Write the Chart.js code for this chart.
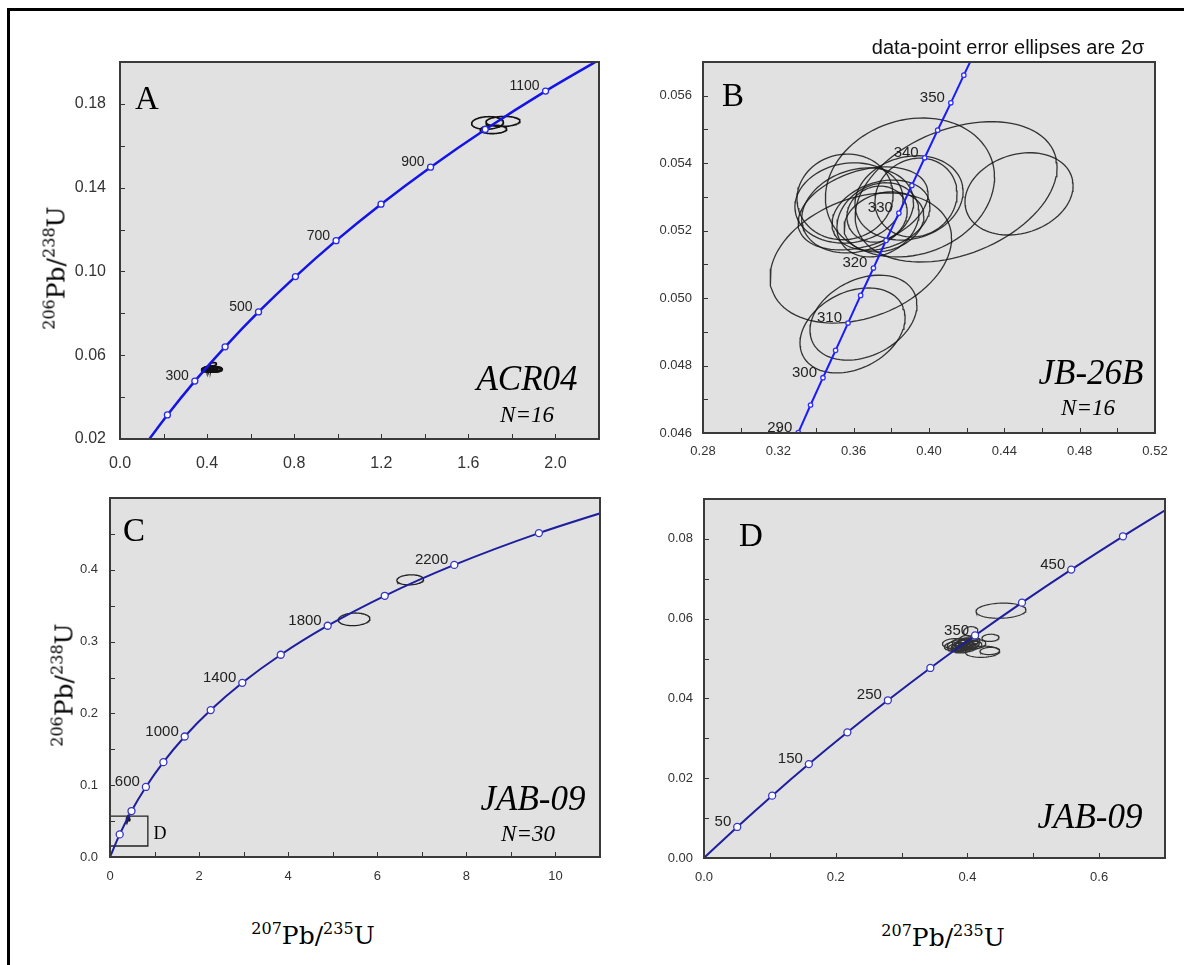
<!DOCTYPE html>
<html>
<head>
<meta charset="utf-8">
<script src="https://cdn.jsdelivr.net/npm/chart.js@4.4.1/dist/chart.umd.min.js"></script>
<style>
body{margin:0;background:#fff;width:1184px;height:965px;position:relative;overflow:hidden;font-family:"Liberation Sans",Arial,sans-serif}
.frame{position:absolute;left:7px;top:8px;width:1180px;height:965px;border-top:3px solid #000;border-left:3px solid #000}
.cv{position:absolute}
.t{position:absolute;white-space:nowrap;line-height:1;transform:translate(-50%,-50%);color:#000}
.ser{font-family:"Liberation Serif",serif}
.it{font-family:"Liberation Serif",serif;font-style:italic}
.ax{font-family:"DejaVu Serif",serif;font-size:25px}
.ax sup{font-size:16px;vertical-align:0;position:relative;top:-10px}
.rot{transform:translate(-50%,-50%) rotate(-90deg)}
</style>
</head>
<body>
<div class="frame"></div>

<canvas id="chartA" class="cv" style="left:50px;top:52px" width="579" height="427"></canvas>
<canvas id="chartB" class="cv" style="left:633px;top:52px" width="552" height="421"></canvas>
<canvas id="chartC" class="cv" style="left:40px;top:488px" width="590" height="409"></canvas>
<canvas id="chartD" class="cv" style="left:634px;top:489px" width="561" height="409"></canvas>

<div class="t" style="left:1008px;top:47px;font-size:20px;color:#111">data-point error ellipses are 2σ</div>

<div class="t ser" style="left:147px;top:98px;font-size:33px">A</div>
<div class="t ser" style="left:733px;top:95px;font-size:33px">B</div>
<div class="t ser" style="left:134px;top:530px;font-size:33px">C</div>
<div class="t ser" style="left:751px;top:535px;font-size:33px">D</div>
<div class="t ser" style="left:160px;top:833px;font-size:18px">D</div>

<div class="t it" style="left:527px;top:378px;font-size:35px">ACR04</div>
<div class="t it" style="left:527px;top:414px;font-size:23px">N=16</div>
<div class="t it" style="left:1091px;top:372px;font-size:35px">JB-26B</div>
<div class="t it" style="left:1088px;top:407px;font-size:23px">N=16</div>
<div class="t it" style="left:533px;top:798px;font-size:35px">JAB-09</div>
<div class="t it" style="left:528px;top:833px;font-size:23px">N=30</div>
<div class="t it" style="left:1090px;top:816px;font-size:35px">JAB-09</div>

<div class="t ax rot" style="left:56px;top:268px"><sup>206</sup>Pb/<sup>238</sup>U</div>
<div class="t ax rot" style="left:64px;top:685px"><sup>206</sup>Pb/<sup>238</sup>U</div>
<div class="t ax" style="left:313px;top:935px"><sup>207</sup>Pb/<sup>235</sup>U</div>
<div class="t ax" style="left:943px;top:937px"><sup>207</sup>Pb/<sup>235</sup>U</div>

<script>
// ---- panel A : ACR04 ----
var agesA  = [100, 200, 300, 400, 500, 600, 700, 800, 900, 1000, 1100, 1200]
var concXA = [0.1035, 0.2177, 0.3437, 0.4828, 0.6362, 0.8057, 0.9925, 1.1988, 1.4264, 1.6774, 1.9546, 2.2603]
var concYA = [0.01563, 0.03151, 0.04764, 0.06402, 0.08065, 0.09754, 0.1147, 0.1321, 0.1498, 0.1678, 0.1861, 0.2046]
var dotsA  = [200, 300, 400, 500, 600, 700, 800, 900, 1000, 1100]
var namedA = [300, 500, 700, 900, 1100]
var xTickA = [0, 0.2, 0.4, 0.6, 0.8, 1.0, 1.2, 1.4, 1.6, 1.8, 2.0, 2.2]
var xLabA  = ['0.0', '', '0.4', '', '0.8', '', '1.2', '', '1.6', '', '2.0', '']
var yTickA = [0.02, 0.04, 0.06, 0.08, 0.10, 0.12, 0.14, 0.16, 0.18, 0.20]
var yLabA  = ['0.02', '', '0.06', '', '0.10', '', '0.14', '', '0.18', '']
var ellXA  = [1.688, 1.759, 1.715, 0.410, 0.430, 0.420, 0.425, 0.400, 0.415, 0.435, 0.405, 0.440, 0.428, 0.418, 0.395, 0.445]
var ellSXA = [0.073, 0.078, 0.061, 0.035, 0.040, 0.030, 0.020, 0.025, 0.022, 0.030, 0.020, 0.025, 0.015, 0.018, 0.020, 0.020]
var ellYA  = [0.1709, 0.1716, 0.1678, 0.0533, 0.0532, 0.0535, 0.0534, 0.0536, 0.0530, 0.0533, 0.0538, 0.0530, 0.0557, 0.0540, 0.0531, 0.0535]
var ellSYA = [0.0030, 0.0024, 0.0020, 0.0012, 0.0013, 0.0010, 0.0009, 0.0010, 0.0009, 0.0011, 0.0010, 0.0010, 0.0008, 0.0009, 0.0010, 0.0009]
var ellRA  = [0.1, 0.1, 0.1, 0.2, 0.1, 0.2, 0.2, 0.3, 0.2, 0.1, 0.3, 0.1, 0.2, 0.2, 0.3, 0.1]

// ---- panel B : JB-26B ----
var agesB  = [285, 290, 295, 300, 305, 310, 315, 320, 325, 330, 335, 340, 345, 350, 355, 360]
var concXB = [0.3240, 0.3306, 0.3371, 0.3437, 0.3504, 0.3570, 0.3637, 0.3705, 0.3772, 0.3840, 0.3909, 0.3977, 0.4046, 0.4116, 0.4185, 0.4255]
var concYB = [0.04520, 0.04601, 0.04683, 0.04764, 0.04845, 0.04926, 0.05008, 0.05089, 0.05171, 0.05252, 0.05334, 0.05416, 0.05498, 0.05579, 0.05661, 0.05743]
var dotsB  = [290, 295, 300, 305, 310, 315, 320, 325, 330, 335, 340, 345, 350, 355]
var namedB = [290, 300, 310, 320, 330, 340, 350]
var xTickB = [0.28, 0.30, 0.32, 0.34, 0.36, 0.38, 0.40, 0.42, 0.44, 0.46, 0.48, 0.50, 0.52]
var xLabB  = ['0.28', '', '0.32', '', '0.36', '', '0.40', '', '0.44', '', '0.48', '', '0.52']
var yTickB = [0.046, 0.047, 0.048, 0.049, 0.050, 0.051, 0.052, 0.053, 0.054, 0.055, 0.056, 0.057]
var yLabB  = ['0.046', '', '0.048', '', '0.050', '', '0.052', '', '0.054', '', '0.056', '']
var ellXB  = [0.3638, 0.3899, 0.4144, 0.4478, 0.3594, 0.3652, 0.3575, 0.3554, 0.3621, 0.3729, 0.3724, 0.3894, 0.3931, 0.3745, 0.3761, 0.3650]
var ellSXB = [0.0482, 0.0449, 0.0536, 0.0287, 0.0279, 0.0284, 0.0287, 0.0255, 0.0297, 0.0218, 0.0160, 0.0287, 0.0218, 0.0260, 0.0212, 0.0345]
var ellYB  = [0.05119, 0.05328, 0.05315, 0.05309, 0.04904, 0.04942, 0.05282, 0.05300, 0.05260, 0.05232, 0.05249, 0.05297, 0.05298, 0.05246, 0.05226, 0.05266]
var ellSYB = [0.00193, 0.00206, 0.00208, 0.00122, 0.00126, 0.00126, 0.00119, 0.00127, 0.00126, 0.00110, 0.00083, 0.00125, 0.00117, 0.00104, 0.00089, 0.00123]
var ellRB  = [0.3, 0.15, 0.35, 0.2, 0.3, 0.3, 0.1, 0.05, 0.2, 0.2, 0.1, 0.15, 0.1, 0.25, 0.2, 0.35]

// ---- panel C : JAB-09 full range ----
var agesC  = [0, 200, 400, 600, 800, 1000, 1200, 1400, 1600, 1800, 2000, 2200, 2400, 2600]
var concXC = [0, 0.2177, 0.4828, 0.8057, 1.1988, 1.6774, 2.2603, 2.970, 3.834, 4.887, 6.168, 7.729, 9.629, 11.943]
var concYC = [0, 0.03151, 0.06402, 0.09754, 0.1321, 0.1678, 0.2046, 0.2426, 0.2817, 0.3221, 0.3638, 0.4068, 0.4511, 0.4968]
var dotsC  = [200, 400, 600, 800, 1000, 1200, 1400, 1600, 1800, 2000, 2200, 2400]
var namedC = [600, 1000, 1400, 1800, 2200]
var xTickC = [0, 1, 2, 3, 4, 5, 6, 7, 8, 9, 10, 11]
var xLabC  = ['0', '', '2', '', '4', '', '6', '', '8', '', '10', '']
var yTickC = [0, 0.05, 0.1, 0.15, 0.2, 0.25, 0.3, 0.35, 0.4, 0.45, 0.5]
var yLabC  = ['0.0', '', '0.1', '', '0.2', '', '0.3', '', '0.4', '', '']
var boxXC  = [0, 0.85, 0.85, 0, 0]
var boxYC  = [0.0153, 0.0153, 0.0568, 0.0568, 0.0153]

// ---- panel D : JAB-09 zoom ----
var agesD  = [0, 50, 100, 150, 200, 250, 300, 350, 400, 450, 500, 550]
var concXD = [0, 0.05047, 0.1035, 0.1592, 0.2177, 0.2792, 0.3437, 0.4116, 0.4828, 0.5576, 0.6362, 0.7189]
var concYD = [0, 0.007786, 0.01563, 0.02354, 0.03151, 0.03954, 0.04764, 0.05579, 0.06402, 0.07230, 0.08065, 0.08906]
var dotsD  = [50, 100, 150, 200, 250, 300, 350, 400, 450, 500]
var namedD = [50, 150, 250, 350, 450]
var xTickD = [0, 0.1, 0.2, 0.3, 0.4, 0.5, 0.6, 0.7]
var xLabD  = ['0.0', '', '0.2', '', '0.4', '', '0.6', '']
var yTickD = [0, 0.01, 0.02, 0.03, 0.04, 0.05, 0.06, 0.07, 0.08, 0.09]
var yLabD  = ['0.00', '', '0.02', '', '0.04', '', '0.06', '', '0.08', '']

// JAB-09 ellipses (shown in both C and D)
var ellXJ  = [0.451, 0.385, 0.390, 0.395, 0.398, 0.402, 0.388, 0.392, 0.400, 0.405, 0.383, 0.396, 0.410, 0.380, 0.393, 0.405, 0.435, 0.423, 0.434, 0.414, 0.386, 0.399, 0.391, 0.403, 0.377, 0.409, 0.397, 0.388, 5.48, 6.74]
var ellSXJ = [0.038, 0.016, 0.014, 0.013, 0.012, 0.014, 0.012, 0.011, 0.015, 0.013, 0.013, 0.010, 0.012, 0.018, 0.012, 0.011, 0.013, 0.026, 0.015, 0.014, 0.010, 0.009, 0.010, 0.010, 0.012, 0.010, 0.010, 0.011, 0.355, 0.30]
var ellYJ  = [0.0620, 0.0535, 0.0530, 0.0537, 0.0532, 0.0540, 0.0525, 0.0538, 0.0528, 0.0535, 0.0528, 0.0543, 0.0533, 0.0538, 0.0522, 0.0568, 0.0552, 0.0517, 0.0519, 0.0536, 0.0532, 0.0535, 0.0527, 0.0530, 0.0531, 0.0544, 0.0548, 0.0541, 0.331, 0.386]
var ellSYJ = [0.0019, 0.0012, 0.0010, 0.0011, 0.0010, 0.0012, 0.0009, 0.0010, 0.0012, 0.0011, 0.0010, 0.0009, 0.0010, 0.0012, 0.0008, 0.0012, 0.0009, 0.0014, 0.0009, 0.0011, 0.0008, 0.0008, 0.0009, 0.0009, 0.0010, 0.0009, 0.0010, 0.0010, 0.0088, 0.0070]
var ellRJ  = [0.1, 0.3, 0.3, 0.3, 0.3, 0.3, 0.3, 0.3, 0.3, 0.3, 0.3, 0.3, 0.2, 0.1, 0.3, 0.1, 0.1, 0.1, 0.1, 0.2, 0.3, 0.3, 0.3, 0.3, 0.2, 0.2, 0.2, 0.2, 0.1, 0.1]

// outline of a 2-sigma error ellipse from x, 2s(x), y, 2s(y), rho
function ellipse(cx, sx, cy, sy, rho) {
    var pts = []
    var k = Math.sqrt(1 - rho * rho)
    for (var i = 0; i <= 90; i++) {
        var t = i / 90 * 2 * Math.PI
        pts.push({x: cx + sx * Math.cos(t), y: cy + sy * (rho * Math.cos(t) + k * Math.sin(t))})
    }
    return pts
}

function pairs(xs, ys) {
    return xs.map(function(v, i){ return {x: v, y: ys[i]} })
}

function makePanel(id, p) {
    var datasets = []
    datasets.push({
        data: p.ages.map(function(a, i){ return {x: p.cx[i], y: p.cy[i]} }).filter(function(d, i){ return p.dots.indexOf(p.ages[i]) >= 0 }),
        showLine: false, pointRadius: p.dotR, pointBorderWidth: 1.3,
        pointBackgroundColor: '#ffffff', pointBorderColor: p.dotColor, order: 0
    })
    datasets.push({
        data: pairs(p.cx, p.cy), showLine: true, pointRadius: 0,
        borderColor: p.lineColor, borderWidth: p.lineW, cubicInterpolationMode: 'monotone', order: 1
    })
    for (var i = 0; i < p.ex.length; i++) {
        datasets.push({
            data: ellipse(p.ex[i], p.esx[i], p.ey[i], p.esy[i], p.er[i]), showLine: true, pointRadius: 0,
            borderColor: p.ellColor, borderWidth: p.ellW, tension: 0, order: 2
        })
    }
    if (p.box) {
        datasets.push({data: pairs(p.box[0], p.box[1]), showLine: true, pointRadius: 0,
            borderColor: '#222', borderWidth: 1.3, tension: 0, order: 3})
    }

    var deco = {
        id: 'deco' + id,
        beforeDatasetsDraw: function(chart) {
            var a = chart.chartArea, c = chart.ctx
            c.save()
            c.fillStyle = '#e1e1e1'
            c.fillRect(a.left, a.top, a.right - a.left, a.bottom - a.top)
            c.restore()
        },
        afterDraw: function(chart) {
            var a = chart.chartArea, c = chart.ctx
            var xs = chart.scales.x, ys = chart.scales.y
            c.save()
            c.strokeStyle = '#333'
            c.lineWidth = 1
            xs.ticks.forEach(function(t){
                var px = Math.round(xs.getPixelForValue(t.value)) + 0.5
                c.beginPath(); c.moveTo(px, a.bottom); c.lineTo(px, a.bottom - 5); c.stroke()
            })
            ys.ticks.forEach(function(t){
                var py = Math.round(ys.getPixelForValue(t.value)) + 0.5
                c.beginPath(); c.moveTo(a.left, py); c.lineTo(a.left + 5, py); c.stroke()
            })
            c.strokeStyle = '#3a3a3a'
            c.lineWidth = 2
            c.strokeRect(a.left, a.top, a.right - a.left, a.bottom - a.top)
            // age labels on the concordia
            c.fillStyle = '#222'
            c.font = p.ageFont + 'px "Liberation Sans", Arial, sans-serif'
            c.textAlign = 'right'
            c.textBaseline = 'middle'
            p.named.forEach(function(age){
                var i = p.ages.indexOf(age)
                var px = xs.getPixelForValue(p.cx[i]), py = ys.getPixelForValue(p.cy[i])
                c.fillText(String(age), px - 6, py - 5)
            })
            c.restore()
        }
    }

    function axis(ticks, labels, min, max, size, pad, isX) {
        return {
            type: 'linear', min: min, max: max,
            grid: {display: false, drawTicks: false}, border: {display: false},
            afterBuildTicks: function(s){ s.ticks = ticks.map(function(v){ return {value: v} }) },
            afterFit: function(s){
                if (isX) s.height = 40; else s.width = 70
                s.paddingTop = 0; s.paddingBottom = 0; s.paddingLeft = 0; s.paddingRight = 0
            },
            ticks: {
                padding: pad, color: '#333', autoSkip: false, maxRotation: 0,
                font: {size: size, family: '"Liberation Sans", Arial, sans-serif'},
                callback: function(v, i){ return labels[i] }
            }
        }
    }

    return new Chart(document.getElementById(id), {
        type: 'scatter',
        data: {datasets: datasets},
        options: {
            responsive: false, animation: false, devicePixelRatio: 1,
            layout: {padding: {top: 10, right: 30, left: 0, bottom: 0}},
            plugins: {legend: {display: false}, tooltip: {enabled: false}},
            scales: {
                x: axis(p.xt, p.xl, p.xmin, p.xmax, p.tickFont, p.xpad, true),
                y: axis(p.yt, p.yl, p.ymin, p.ymax, p.tickFont, p.ypad, false)
            }
        },
        plugins: [deco]
    })
}

makePanel('chartA', {
    ages: agesA, cx: concXA, cy: concYA, dots: dotsA, named: namedA,
    xt: xTickA, xl: xLabA, yt: yTickA, yl: yLabA, xmin: 0, xmax: 2.2, ymin: 0.02, ymax: 0.2,
    ex: ellXA, esx: ellSXA, ey: ellYA, esy: ellSYA, er: ellRA,
    lineColor: '#1414e6', dotColor: '#2a2aee', lineW: 2.5, dotR: 3, ellColor: '#111', ellW: 1.6,
    tickFont: 16, xpad: 15, ypad: 14, ageFont: 14
})
makePanel('chartB', {
    ages: agesB, cx: concXB, cy: concYB, dots: dotsB, named: namedB,
    xt: xTickB, xl: xLabB, yt: yTickB, yl: yLabB, xmin: 0.28, xmax: 0.52, ymin: 0.046, ymax: 0.057,
    ex: ellXB, esx: ellSXB, ey: ellYB, esy: ellSYB, er: ellRB,
    lineColor: '#1a1aff', dotColor: '#3030ff', lineW: 2, dotR: 2.2, ellColor: 'rgba(20,20,20,0.85)', ellW: 1.3,
    tickFont: 13, xpad: 11, ypad: 11, ageFont: 15
})
makePanel('chartC', {
    ages: agesC, cx: concXC, cy: concYC, dots: dotsC, named: namedC,
    xt: xTickC, xl: xLabC, yt: yTickC, yl: yLabC, xmin: 0, xmax: 11, ymin: 0, ymax: 0.5,
    ex: ellXJ, esx: ellSXJ, ey: ellYJ, esy: ellSYJ, er: ellRJ, box: [boxXC, boxYC],
    lineColor: '#1e1e9e', dotColor: '#3535c8', lineW: 2, dotR: 3.5, ellColor: '#222', ellW: 1.3,
    tickFont: 13, xpad: 12, ypad: 12, ageFont: 15
})
makePanel('chartD', {
    ages: agesD, cx: concXD, cy: concYD, dots: dotsD, named: namedD,
    xt: xTickD, xl: xLabD, yt: yTickD, yl: yLabD, xmin: 0, xmax: 0.7, ymin: 0, ymax: 0.09,
    ex: ellXJ, esx: ellSXJ, ey: ellYJ, esy: ellSYJ, er: ellRJ,
    lineColor: '#1e1e9e', dotColor: '#3535c8', lineW: 2, dotR: 3.5, ellColor: '#333', ellW: 1.2,
    tickFont: 13, xpad: 12, ypad: 11, ageFont: 15
})
</script>
</body>
</html>
